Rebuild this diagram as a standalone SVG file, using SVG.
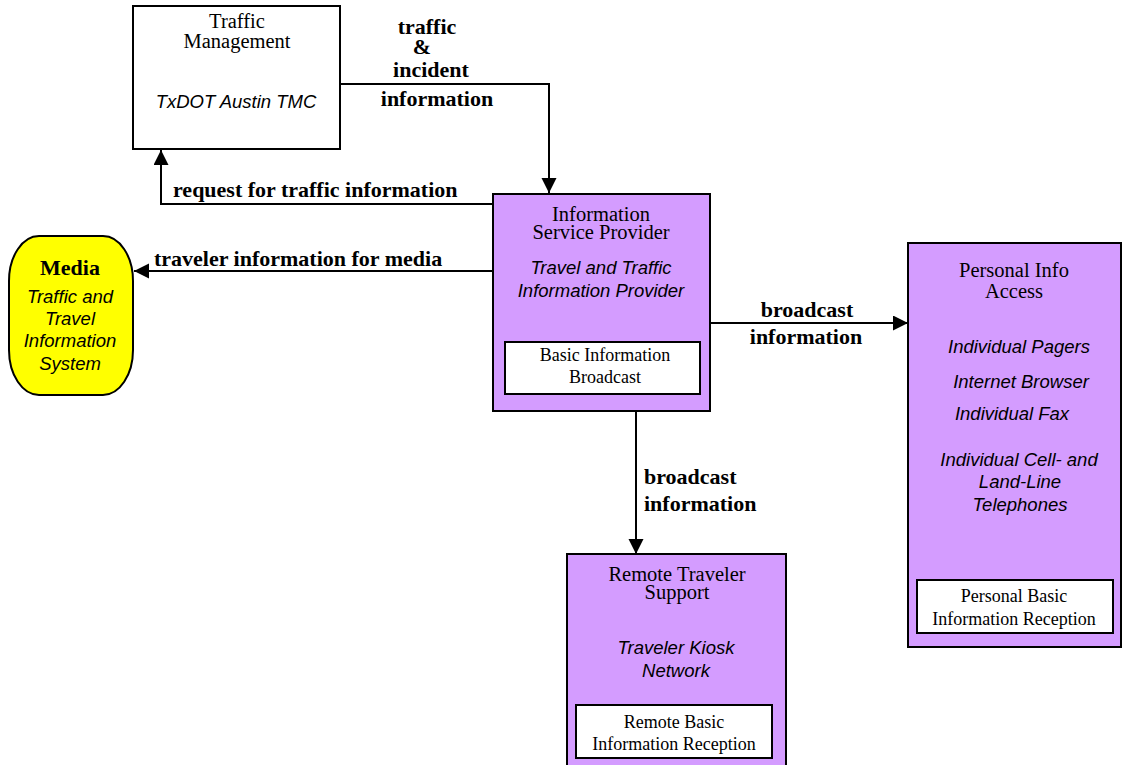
<svg xmlns="http://www.w3.org/2000/svg" width="1122" height="765" viewBox="0 0 1122 765">
  <style>
    .box { stroke: #000; stroke-width: 2; }
    .ent { fill: #D49CFF; }
    .ext { fill: #FFFFFF; }
    .inner { fill: #FFFFFF; stroke: #000; stroke-width: 2; }
    .title { font-family: "Liberation Serif", "Times New Roman", serif; font-size: 20.5px; fill: #000; text-anchor: middle; }
    .sub { font-family: "Liberation Sans", Arial, sans-serif; font-style: italic; font-size: 18.5px; fill: #000; text-anchor: middle; }
    .small { font-family: "Liberation Serif", "Times New Roman", serif; font-size: 18px; fill: #000; text-anchor: middle; }
    .flow { font-family: "Liberation Serif", "Times New Roman", serif; font-weight: bold; font-size: 22px; fill: #000; }
    .mid { text-anchor: middle; }
    .conn { fill: none; stroke: #000; stroke-width: 2; }
  </style>
  <defs>
    <marker id="arrow" markerUnits="userSpaceOnUse" markerWidth="16" markerHeight="16" refX="15" refY="7.5" orient="auto">
      <path d="M0,0 L15,7.5 L0,15 z" fill="#000"/>
    </marker>
  </defs>

  <rect width="1122" height="765" fill="#FFFFFF"/>

  <!-- connectors and their flow labels -->
  <g id="connectors">
    <path class="conn" d="M340,84 H549 V193" marker-end="url(#arrow)"/>
    <path class="conn" d="M493,204 H161 V150" marker-end="url(#arrow)"/>
    <path class="conn" d="M493,271 H134" marker-end="url(#arrow)"/>
    <path class="conn" d="M710,323 H908" marker-end="url(#arrow)"/>
    <path class="conn" d="M636,411 V554" marker-end="url(#arrow)"/>

    <text class="flow mid" x="427" y="34">traffic</text>
    <text class="flow mid" x="422" y="54">&amp;</text>
    <text class="flow mid" x="431" y="77">incident</text>
    <text class="flow mid" x="437" y="106">information</text>

    <text class="flow" x="173" y="197">request for traffic information</text>
    <text class="flow" x="154" y="266">traveler information for media</text>

    <text class="flow mid" x="807" y="317">broadcast</text>
    <text class="flow mid" x="806" y="344">information</text>

    <text class="flow" x="644" y="484">broadcast</text>
    <text class="flow" x="644" y="511">information</text>
  </g>

  <!-- Traffic Management -->
  <g id="traffic-management">
    <rect class="box ext" x="133" y="6" width="207" height="143"/>
    <text class="title" x="237" y="28">Traffic</text>
    <text class="title" x="237" y="48">Management</text>
    <text class="sub" x="236" y="108">TxDOT Austin TMC</text>
  </g>

  <!-- Media -->
  <g id="media">
    <rect class="box" fill="#FFFF00" x="9" y="236" width="124" height="159" rx="30" ry="45"/>
    <text class="flow mid" x="70" y="275">Media</text>
    <text class="sub" x="70" y="303">Traffic and</text>
    <text class="sub" x="70" y="325">Travel</text>
    <text class="sub" x="70" y="347">Information</text>
    <text class="sub" x="70" y="370">System</text>
  </g>

  <!-- Information Service Provider -->
  <g id="information-service-provider">
    <rect class="box ent" x="493" y="194" width="217" height="217"/>
    <text class="title" x="601" y="221">Information</text>
    <text class="title" x="601" y="239">Service Provider</text>
    <text class="sub" x="601" y="274">Travel and Traffic</text>
    <text class="sub" x="601" y="297">Information Provider</text>
    <rect class="inner" x="505" y="342" width="195" height="52"/>
    <text class="small" x="605" y="361">Basic Information</text>
    <text class="small" x="605" y="383">Broadcast</text>
  </g>

  <!-- Personal Info Access -->
  <g id="personal-info-access">
    <rect class="box ent" x="908" y="243" width="213" height="404"/>
    <text class="title" x="1014" y="277">Personal Info</text>
    <text class="title" x="1014" y="298">Access</text>
    <text class="sub" x="1019" y="353">Individual Pagers</text>
    <text class="sub" x="1021" y="388">Internet Browser</text>
    <text class="sub" x="1012" y="420">Individual Fax</text>
    <text class="sub" x="1019" y="466">Individual Cell- and</text>
    <text class="sub" x="1020" y="488">Land-Line</text>
    <text class="sub" x="1020" y="511">Telephones</text>
    <rect class="inner" x="917" y="580" width="196" height="53"/>
    <text class="small" x="1014" y="602">Personal Basic</text>
    <text class="small" x="1014" y="625">Information Reception</text>
  </g>

  <!-- Remote Traveler Support -->
  <g id="remote-traveler-support">
    <rect class="box ent" x="567" y="554" width="219" height="220"/>
    <text class="title" x="677" y="581">Remote Traveler</text>
    <text class="title" x="677" y="599">Support</text>
    <text class="sub" x="676" y="654">Traveler Kiosk</text>
    <text class="sub" x="676" y="677">Network</text>
    <rect class="inner" x="576" y="705" width="196" height="53"/>
    <text class="small" x="674" y="728">Remote Basic</text>
    <text class="small" x="674" y="750">Information Reception</text>
  </g>
</svg>
